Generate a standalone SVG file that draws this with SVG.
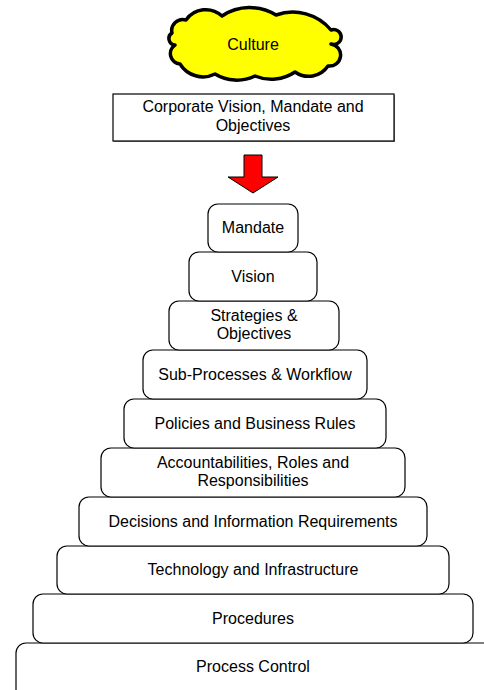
<svg xmlns="http://www.w3.org/2000/svg" width="484" height="690" viewBox="0 0 484 690">
<style>
text{font-family:"Liberation Sans",Arial,sans-serif;font-size:16px;fill:#000;text-anchor:middle}
.box{fill:#fff;stroke:#000;stroke-width:1.2}
</style>
<rect width="484" height="690" fill="#fff"/>
<g id="culture">
<path d="M172,33 A11,11 0 0 1 186,20 A24,24 0 0 1 222,16 A50,50 0 0 1 276,15 A50,50 0 0 1 331,30 A7.5,7.5 0 1 1 331,44 A11,11 0 0 1 328,66 A23.5,23.5 0 0 1 295,72 A42,42 0 0 1 255,76 A42,42 0 0 1 215,74 A27,27 0 0 1 180,64 A10.4,10.4 0 0 1 175,45 A6.5,6.5 0 0 1 172,33 Z" fill="#ffff00" stroke="#000" stroke-width="3.5" stroke-linejoin="round"/>
<text x="253" y="50">Culture</text>
</g>
<g id="corporate">
<rect x="114" y="95" width="281" height="47" fill="#888"/>
<rect x="113" y="94" width="281" height="47" fill="#fff" stroke="#000" stroke-width="1.2"/>
<text x="253" y="112">Corporate Vision, Mandate and</text>
<text x="253" y="131">Objectives</text>
</g>
<g id="connectors">
<polygon points="244,155 262,155 262,177 278,177 253,193 228,177 244,177" fill="#ff0000" stroke="#000" stroke-width="1"/>
</g>
<g id="process-control"><rect class="box" x="16" y="643" width="480" height="60" rx="10"/><text x="253" y="672">Process Control</text></g>
<g id="procedures"><rect class="box" x="33" y="594" width="440" height="49" rx="10"/><text x="253" y="624">Procedures</text></g>
<g id="technology"><rect class="box" x="57" y="546" width="392" height="48" rx="10"/><text x="253" y="575">Technology and Infrastructure</text></g>
<g id="decisions"><rect class="box" x="79" y="497" width="348" height="49" rx="10"/><text x="253" y="527">Decisions and Information Requirements</text></g>
<g id="accountabilities"><rect class="box" x="101" y="448" width="304" height="49" rx="10"/><text x="253" y="468">Accountabilities, Roles and</text><text x="253" y="486">Responsibilities</text></g>
<g id="policies"><rect class="box" x="124" y="399" width="262" height="49" rx="10"/><text x="255" y="429">Policies and Business Rules</text></g>
<g id="subprocesses"><rect class="box" x="143" y="350" width="224" height="49" rx="10"/><text x="255" y="380">Sub-Processes &amp; Workflow</text></g>
<g id="strategies"><rect class="box" x="169" y="301" width="170" height="49" rx="10"/><text x="254" y="321">Strategies &amp;</text><text x="254" y="339">Objectives</text></g>
<g id="vision"><rect class="box" x="189" y="252" width="128" height="49" rx="10"/><text x="253" y="282">Vision</text></g>
<g id="mandate"><rect class="box" x="208" y="204" width="90" height="48" rx="10"/><text x="253" y="233">Mandate</text></g>
</svg>
